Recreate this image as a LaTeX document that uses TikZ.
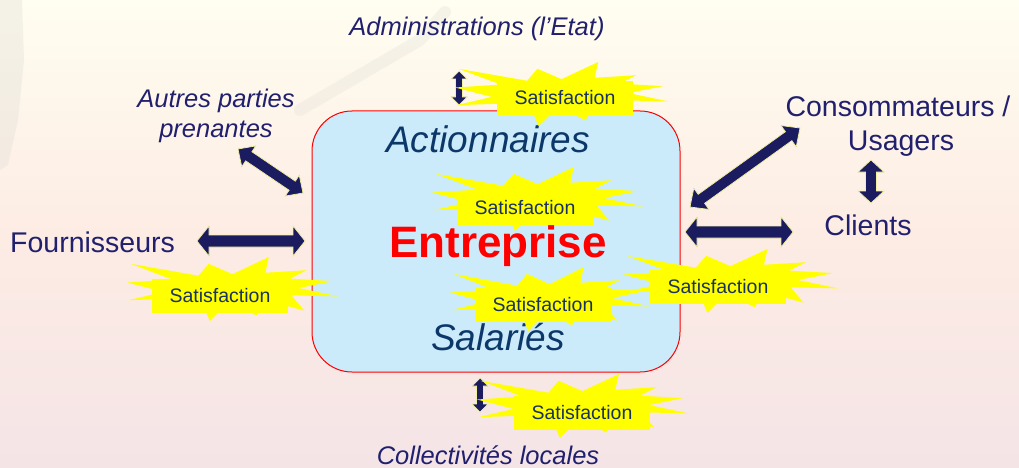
\documentclass[tikz,border=0pt]{standalone}
\usepackage{fontspec}
\setmainfont{Liberation Sans}
\usetikzlibrary{calc}
\definecolor{navytxt}{RGB}{32,32,110}
\definecolor{navyarr}{RGB}{27,27,95}
\definecolor{bluetxt}{RGB}{12,55,105}
\definecolor{sattxt}{RGB}{25,50,95}
\definecolor{boxfill}{RGB}{204,235,250}
\definecolor{bgtop}{RGB}{255,254,240}
\definecolor{bgmid}{RGB}{253,236,228}
\definecolor{bgbot}{RGB}{244,228,230}
\definecolor{burstyel}{RGB}{255,255,0}
\definecolor{arrline}{RGB}{240,240,160}
\definecolor{ghost}{RGB}{225,222,215}
\newcommand\burstshape[4]{%
  \fill[burstyel, shift={(#1,#2)}, xscale=#3, yscale=#4]
  (0.5,0.2685) -- (0.6723,0) -- (0.6553,0.2465) -- (0.8509,0.2063) -- (0.7732,0.3387)
  -- (0.9767,0.3767) -- (0.8151,0.4850) -- (1,0.6153) -- (0.7795,0.5992) -- (0.8400,0.8377)
  -- (0.6491,0.6693) -- (0.6133,0.9138) -- (0.4876,0.6914) -- (0.3928,1) -- (0.3572,0.7235)
  -- (0.2205,0.8156) -- (0.2624,0.6452) -- (0.0063,0.6753) -- (0.1723,0.5451) -- (0,0.3988)
  -- (0.2142,0.3526) -- (0.0171,0.1063) -- (0.3385,0.2926) -- (0.3867,0.1063) -- cycle;}
\newcommand\fatarrow[6]{% style, A, B, shaft half, head half, head length
  \path ($(#2)!#6!(#3)$) coordinate (p1) ($(#3)!#6!(#2)$) coordinate (p2);
  \filldraw[#1] (#2) -- ($(p1)!#5!90:(#3)$) -- ($(p1)!#4!90:(#3)$)
    -- ($(p2)!#4!-90:(#2)$) -- ($(p2)!#5!-90:(#2)$) -- (#3)
    -- ($(p2)!#5!90:(#2)$) -- ($(p2)!#4!90:(#2)$)
    -- ($(p1)!#4!-90:(#3)$) -- ($(p1)!#5!-90:(#3)$) -- cycle;}
\begin{document}
\begin{tikzpicture}[x=1pt,y=-1pt,
  lbl/.style={font=\fontsize{25.5}{30}\selectfont\itshape, text=navytxt, inner sep=0pt},
  big/.style={font=\fontsize{28.5}{34}\selectfont, text=navytxt, inner sep=0pt},
  inbox/.style={font=\fontsize{37}{42}\selectfont\itshape, text=bluetxt, inner sep=0pt},
  sat/.style={fill=burstyel, text=sattxt, font=\fontsize{19.5}{22}\selectfont, inner xsep=18pt, inner ysep=10pt},
  fat/.style={fill=navyarr, draw=arrline, line width=0.7pt, line join=miter},
  mainbox/.style={draw=red, line width=1pt, fill=boxfill, rounded corners=40pt,
    minimum width=368pt, minimum height=261pt, inner sep=0pt}]
\useasboundingbox (0,0) rectangle (1019,468);
\shade[top color=bgtop, bottom color=bgbot, middle color=bgmid] (0,0) rectangle (1019,468);
% faint background picture
\fill[ghost, opacity=0.35] (0,0) -- (22,0) -- (24,60) -- (18,120) -- (8,165) -- (0,170) -- cycle;
\draw[ghost, opacity=0.3, line width=12pt, line cap=round] (300,110) -- (360,75) -- (420,40) -- (445,12);
% main box
\node[mainbox] (box) at (496,241.5) {};
\node[inbox, anchor=base] (act) at (488,152) {Actionnaires};
\node[inbox, anchor=base] (sal) at (498,350) {Salariés};
% outer labels
\node[lbl, anchor=base] (adm) at (477,36) {Administrations (l’Etat)};
\node[lbl, anchor=base] (autA) at (216,108) {Autres parties};
\node[lbl, anchor=base] (autB) at (216,138) {prenantes};
\node[lbl, anchor=base] (coll) at (488,464) {Collectivités locales};
\node[big, anchor=base west] (four) at (10,252) {Fournisseurs};
\node[big, anchor=base] (consA) at (898,117) {Consommateurs /};
\node[big, anchor=base] (consB) at (901,150) {Usagers};
\node[big, anchor=base] (cli) at (868,235) {Clients};
% arrow end points
\coordinate (f1) at (197,241); \coordinate (f2) at (305,241);
\coordinate (c1) at (685,232); \coordinate (c2) at (793,232);
\coordinate (d1) at (690,207); \coordinate (d2) at (800,128);
\coordinate (a1) at (238,149); \coordinate (a2) at (303,193);
\coordinate (v1) at (871,160); \coordinate (v2) at (871,203);
\coordinate (t1) at (459,71);  \coordinate (t2) at (459,105);
\coordinate (b1) at (480,378); \coordinate (b2) at (480,412);
\fatarrow{fat}{f1}{f2}{6pt}{15pt}{12pt}
\fatarrow{fat}{c1}{c2}{6pt}{15pt}{12pt}
\fatarrow{fat}{d1}{d2}{5.5pt}{13pt}{14pt}
\fatarrow{fat}{a1}{a2}{5.5pt}{12.5pt}{13pt}
\fatarrow{fat}{v1}{v2}{5.5pt}{13pt}{12pt}
\fatarrow{fat}{t1}{t2}{3.5pt}{8pt}{8pt}
\fatarrow{fat}{b1}{b2}{3.5pt}{8pt}{8pt}
% bursts
\burstshape{455}{62}{213}{64}
\burstshape{432}{167}{211}{64}
\burstshape{127}{257}{211}{64}
\burstshape{450}{267}{199}{64}
\burstshape{623}{249}{215}{64}
\burstshape{477}{374}{211}{64}
\node[sat] (s1) at (565,98) {Satisfaction};
\node[sat] (s2) at (525,208) {Satisfaction};
\node[sat] (s3) at (220,296) {Satisfaction};
\node[sat] (s4) at (543,305) {Satisfaction};
\node[sat] (s5) at (718,287) {Satisfaction};
\node[sat] (s6) at (582,413) {Satisfaction};
\node[font=\fontsize{44}{50}\selectfont\bfseries, text=red, inner sep=0pt, anchor=base] (ent) at (498,257) {Entreprise};
\end{tikzpicture}
\end{document}
